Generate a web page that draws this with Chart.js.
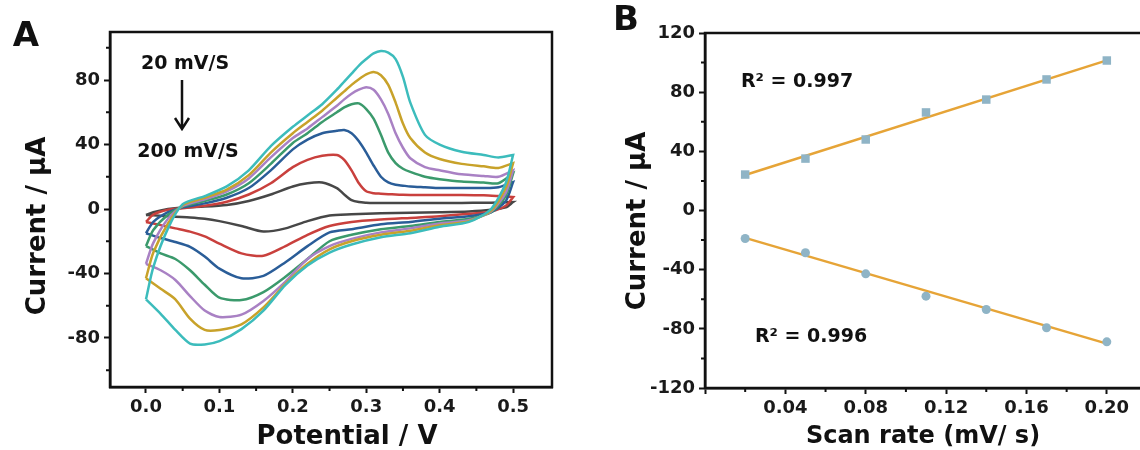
<!DOCTYPE html>
<html>
<head>
<meta charset="utf-8">
<script src="https://cdn.jsdelivr.net/npm/chart.js@4.4.1/dist/chart.umd.min.js"></script>
<style>
  html, body { margin: 0; padding: 0; background: #fff; overflow: hidden; }
  #wrap { position: relative; width: 1140px; height: 450px; overflow: hidden; }
  canvas { position: absolute; top: 0; }
  #cvA { left: 0; }
  #cvB { left: 590px; }
</style>
</head>
<body>
<div id="wrap">
  <canvas id="cvA" width="580" height="450"></canvas>
  <canvas id="cvB" width="570" height="450"></canvas>
</div>
<script>
'use strict';

// ---- panel A : cyclic voltammograms, 20 -> 200 mV/s ----
let scanNames = ['20 mV/s', '50 mV/s', '80 mV/s', '110 mV/s', '140 mV/s', '170 mV/s', '200 mV/s'];
let cvColors = ['#474747', '#c9403d', '#2a5d98', '#3b9a6c', '#a981c4', '#c8a22a', '#3cbcbc'];

// potential (V) of the forward and the reverse sweep
let potFwd = [0, 0.01, 0.03, 0.05, 0.08, 0.11, 0.14, 0.17, 0.2, 0.22, 0.24, 0.26, 0.27, 0.28, 0.29, 0.3, 0.31, 0.32, 0.33, 0.34, 0.35, 0.36, 0.38, 0.4, 0.43, 0.46, 0.48, 0.5];
let potRev = [0.5, 0.49, 0.47, 0.44, 0.4, 0.36, 0.32, 0.28, 0.25, 0.22, 0.19, 0.16, 0.13, 0.1, 0.08, 0.06, 0.04, 0.02, 0];

// current (uA) on each sweep
let fwd20 = [-3.7, -2, 0, 1, 1.5, 2.5, 5, 9, 14, 16, 16.5, 13, 9, 5.5, 4.3, 3.9, 3.7, 3.7, 3.7, 3.7, 3.7, 3.7, 3.7, 3.7, 3.8, 3.9, 4, 4.3];
let rev20 = [4.3, 1, -0.5, -1.5, -2, -2.3, -2.7, -3.3, -4, -7.5, -12, -14, -10.5, -7.5, -6, -5.2, -4.8, -4.2, -3.7];
let fwd50 = [-8, -3.5, -0.5, 0.5, 2, 4.5, 9, 16, 26, 30.5, 33, 33.5, 30.5, 24, 16, 11, 9.8, 9.5, 9.2, 9, 8.8, 8.7, 8.7, 8.7, 8.7, 8.5, 8, 7.4];
let rev50 = [7.4, 2, -1.5, -3, -4.5, -5.5, -6.5, -8, -10.5, -16, -23, -29, -27.5, -21.5, -17, -14, -12, -10, -8];
let fwd80 = [-15, -8, -2, 1, 3.5, 7, 13, 24, 37, 43, 47, 48.5, 49, 47, 42, 35, 27, 20, 16.5, 15, 14.5, 14, 13.5, 13, 13, 13, 13.5, 16.7];
let rev80 = [16.7, 5, -2, -4.5, -6, -8, -9.5, -12.5, -14.5, -23, -33, -41.5, -43, -37, -29.5, -23.5, -20.5, -18, -15];
let fwd110 = [-23, -13, -3.5, 1.5, 5, 9, 16, 28, 41, 47, 54, 60, 63, 65, 65.5, 62, 56, 46, 35, 28.5, 25, 23, 20, 18.5, 17, 16.5, 16, 22];
let rev110 = [22, 8, -2, -6, -8, -10.5, -12.5, -16, -20, -31, -42, -51.5, -56.5, -55, -47, -38, -31, -27.5, -23];
let fwd140 = [-34, -21, -6, 2, 6, 11, 19, 32, 44, 50, 57, 64, 68, 71.5, 74, 75.5, 74, 68, 59, 47, 38, 31.5, 26, 24, 21.5, 20.5, 20, 24];
let rev140 = [24, 10, -1.5, -7, -9, -12, -14.5, -18.5, -23, -31, -45, -57, -65.5, -67, -63, -54, -44, -38, -34];
let fwd170 = [-43, -27, -9, 2.5, 7, 12, 21, 35, 47, 54, 61, 69, 73, 77, 80.5, 83.5, 85, 83, 77, 66, 53, 44, 35, 31, 28, 26.5, 25.5, 28.5];
let rev170 = [28.5, 13, -1, -7.5, -10, -13.5, -16, -20, -25, -34, -46.5, -61, -71.5, -75, -75, -68, -56, -49.5, -43];
let fwd200 = [-56, -36, -12, 3, 8, 14, 24, 39, 51, 58, 65, 74, 79, 84, 89, 93, 96.5, 98, 97, 93, 82, 66, 46, 40, 35.5, 33.5, 32, 33.5];
let rev200 = [33.5, 16, 0, -8, -11, -15, -17.5, -22, -27, -35, -47, -63, -74.5, -82, -84, -83.5, -75, -65, -56];

let fwdAll = [fwd20, fwd50, fwd80, fwd110, fwd140, fwd170, fwd200];
let revAll = [rev20, rev50, rev80, rev110, rev140, rev170, rev200];

let minorAx = [0.05, 0.15, 0.25, 0.35, 0.45];
let minorAy = [-100, -60, -20, 20, 60, 100];

// ---- panel B : peak current vs scan rate ----
let scanRate = [0.02, 0.05, 0.08, 0.11, 0.14, 0.17, 0.20];
let anodicPeak = [24.3, 35.1, 48, 66.3, 75, 88.6, 101.4];
let cathodicPeak = [-18.9, -28.6, -42.8, -57.9, -66.9, -79.3, -88.8];
let fitX = [0.02, 0.20];
let fitAnodic = [24, 101.5];
let fitCathodic = [-18.5, -90];

let minorBx = [0.02, 0.06, 0.10, 0.14, 0.18];
let minorBy = [-100, -60, -20, 20, 60, 100];

let FONT = 'DejaVu Sans';
let INK = '#111';

function pairs(xs, ys) {
    let out = [];
    for (let i = 0; i < xs.length; i++) {
        out.push({ x: xs[i], y: ys[i] });
    }
    return out;
}

// frame, minor ticks and the free texts of each panel
let decor = {
    id: 'decor',
    afterDraw(chart, args, o) {
        let ctx = chart.ctx;
        let a = chart.chartArea;
        let sx = chart.scales.x;
        let sy = chart.scales.y;
        ctx.save();
        ctx.strokeStyle = INK;
        ctx.lineWidth = 2.5;
        ctx.strokeRect(a.left, a.top, a.right - a.left, a.bottom - a.top);
        ctx.lineWidth = 2;
        ctx.beginPath();
        o.minorX.forEach(v => {
            let p = sx.getPixelForValue(v);
            ctx.moveTo(p, a.bottom);
            ctx.lineTo(p, a.bottom + 4);
        });
        o.minorY.forEach(v => {
            let p = sy.getPixelForValue(v);
            ctx.moveTo(a.left, p);
            ctx.lineTo(a.left - 4, p);
        });
        ctx.stroke();

        ctx.fillStyle = INK;
        ctx.textAlign = 'center';
        ctx.textBaseline = 'middle';
        o.texts.forEach(t => {
            ctx.save();
            ctx.font = 'bold ' + t.size + 'px "' + FONT + '"';
            ctx.translate(t.x, t.y);
            if (t.rot) ctx.rotate(-Math.PI / 2);
            ctx.fillText(t.text, 0, 0);
            ctx.restore();
        });

        if (o.arrow) {
            let ar = o.arrow;
            ctx.lineWidth = 2.5;
            ctx.beginPath();
            ctx.moveTo(ar.x, ar.y1);
            ctx.lineTo(ar.x, ar.y2);
            ctx.moveTo(ar.x - 7, ar.y2 - 11);
            ctx.lineTo(ar.x, ar.y2);
            ctx.lineTo(ar.x + 7, ar.y2 - 11);
            ctx.stroke();
        }
        ctx.restore();
    }
};

function axisX(min, max, step, fmt, height) {
    return {
        type: 'linear', min: min, max: max,
        afterFit: s => { s.height = height; },
        border: { display: true, color: INK, width: 2.5 },
        grid: { drawOnChartArea: false, drawTicks: true, tickLength: 6, tickWidth: 2, tickColor: INK, color: INK },
        ticks: {
            stepSize: step, includeBounds: false, autoSkip: false, maxRotation: 0, padding: 4,
            color: '#1a1a1a', font: { family: FONT, size: 18, weight: 'bold' },
            callback: fmt
        }
    };
}

function axisY(min, max, step, width) {
    return {
        type: 'linear', min: min, max: max,
        afterFit: s => { s.width = width; },
        border: { display: true, color: INK, width: 2.5 },
        grid: { drawOnChartArea: false, drawTicks: true, tickLength: 6, tickWidth: 2, tickColor: INK, color: INK },
        ticks: {
            stepSize: step, includeBounds: false, autoSkip: false, padding: 4,
            color: '#1a1a1a', font: { family: FONT, size: 18, weight: 'bold' },
            callback: v => String(Math.round(v))
        }
    };
}

// panel A datasets, fastest scan first so it is drawn on top
let dsA = [];
for (let i = scanNames.length - 1; i >= 0; i--) {
    let pts = pairs(potFwd, fwdAll[i]).concat(pairs(potRev, revAll[i]));
    dsA.push({
        label: scanNames[i],
        data: pts,
        showLine: true,
        borderColor: cvColors[i],
        borderWidth: 2.5,
        pointRadius: 0,
        tension: 0.25,
        fill: false
    });
}

new Chart(document.getElementById('cvA'), {
    type: 'scatter',
    data: { datasets: dsA },
    options: {
        responsive: false,
        animation: false,
        layout: { padding: { left: 0, top: 32, right: 28, bottom: 0 } },
        scales: {
            x: axisX(-0.049, 0.553, 0.1, v => v.toFixed(1), 63),
            y: axisY(-110.4, 109.8, 40, 110)
        },
        plugins: {
            legend: { display: false },
            tooltip: { enabled: false },
            decor: {
                minorX: minorAx,
                minorY: minorAy,
                arrow: { x: 182, y1: 80, y2: 129 },
                texts: [
                    { text: 'A', x: 26, y: 37, size: 34 },
                    { text: '20 mV/S', x: 185, y: 64, size: 19 },
                    { text: '200 mV/S', x: 188, y: 152, size: 19 },
                    { text: 'Current / µA', x: 38, y: 226, size: 26, rot: true },
                    { text: 'Potential / V', x: 347, y: 437, size: 26 }
                ]
            }
        }
    },
    plugins: [decor]
});

// panel B
let markColor = '#8fb4c6';
let fitColor = '#e6a437';

new Chart(document.getElementById('cvB'), {
    type: 'scatter',
    data: {
        datasets: [
            { label: 'anodic', data: pairs(scanRate, anodicPeak), pointStyle: 'rect', pointRadius: 6,
              backgroundColor: markColor, borderColor: markColor, borderWidth: 0 },
            { label: 'cathodic', data: pairs(scanRate, cathodicPeak), pointStyle: 'circle', pointRadius: 4.5,
              backgroundColor: markColor, borderColor: markColor, borderWidth: 0 },
            { label: 'fit anodic', data: pairs(fitX, fitAnodic), showLine: true, pointRadius: 0,
              borderColor: fitColor, borderWidth: 2.5 },
            { label: 'fit cathodic', data: pairs(fitX, fitCathodic), showLine: true, pointRadius: 0,
              borderColor: fitColor, borderWidth: 2.5 }
        ]
    },
    options: {
        responsive: false,
        animation: false,
        layout: { padding: { left: 0, top: 33, right: 13, bottom: 0 } },
        scales: {
            x: axisX(0, 0.22, 0.04, v => (Math.abs(v) < 1e-9 ? '' : v.toFixed(2)), 62),
            y: axisY(-120, 120, 40, 115)
        },
        plugins: {
            legend: { display: false },
            tooltip: { enabled: false },
            decor: {
                minorX: minorBx,
                minorY: minorBy,
                texts: [
                    { text: 'B', x: 36, y: 21, size: 34 },
                    { text: 'R² = 0.997', x: 207, y: 82, size: 19 },
                    { text: 'R² = 0.996', x: 221, y: 337, size: 19 },
                    { text: 'Current / µA', x: 48, y: 221, size: 26, rot: true },
                    { text: 'Scan rate (mV/ s)', x: 333, y: 437, size: 24 }
                ]
            }
        }
    },
    plugins: [decor]
});
</script>
</body>
</html>
